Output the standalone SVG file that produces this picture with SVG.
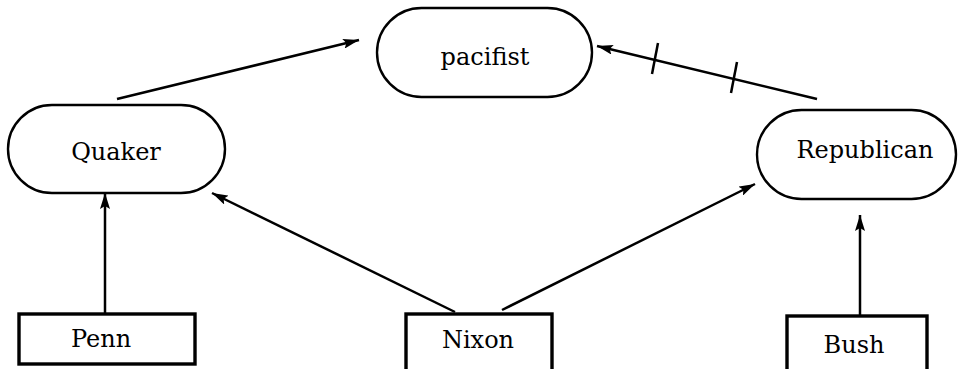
<svg xmlns="http://www.w3.org/2000/svg" width="964" height="369" viewBox="0 0 964 369">
<defs>
<marker id="ah" viewBox="0 0 16 10" refX="16" refY="5" markerWidth="16" markerHeight="10" markerUnits="userSpaceOnUse" orient="auto">
<path d="M0,0 L16,5 L0,10 L3,5 Z" fill="#000"/>
</marker>
</defs>
<style>
.st{fill:#fff;stroke:#000;stroke-width:2.4}
.bx{fill:#fff;stroke:#000;stroke-width:3.4}
.t{font-family:"DejaVu Serif","Liberation Serif",serif;font-size:24px;fill:#000;text-anchor:middle}
.e{fill:none;stroke:#000;stroke-width:2.5}
</style>
<rect width="964" height="369" fill="#fff"/>
<g id="edges">
<line class="e" x1="117" y1="99" x2="359" y2="40" marker-end="url(#ah)"/>
<line class="e" x1="817" y1="99" x2="597" y2="46" marker-end="url(#ah)"/>
<line class="e" x1="658" y1="43" x2="652" y2="74"/>
<line class="e" x1="737" y1="62" x2="731" y2="93"/>
<line class="e" x1="105" y1="313" x2="105" y2="193" marker-end="url(#ah)"/>
<line class="e" x1="455" y1="312" x2="212" y2="193" marker-end="url(#ah)"/>
<line class="e" x1="502" y1="310" x2="755" y2="184" marker-end="url(#ah)"/>
<line class="e" x1="860" y1="315" x2="860" y2="215" marker-end="url(#ah)"/>
</g>
<g id="pacifist">
<rect class="st" x="377" y="8" width="215" height="89" rx="44.5" ry="44.5"/>
<text class="t" x="485" y="65">pacifist</text>
</g>
<g id="quaker">
<rect class="st" x="8" y="105" width="217" height="88" rx="44" ry="44"/>
<text class="t" x="116" y="160">Quaker</text>
</g>
<g id="republican">
<rect class="st" x="757" y="110" width="199" height="89" rx="44.5" ry="44.5"/>
<text class="t" x="865" y="158">Republican</text>
</g>
<g id="penn">
<rect class="bx" x="19" y="314" width="176" height="50"/>
<text class="t" x="101" y="347">Penn</text>
</g>
<g id="nixon">
<rect class="bx" x="406" y="314" width="146" height="70"/>
<text class="t" x="478" y="348">Nixon</text>
</g>
<g id="bush">
<rect class="bx" x="787" y="316" width="140" height="70"/>
<text class="t" x="854" y="353">Bush</text>
</g>
</svg>
